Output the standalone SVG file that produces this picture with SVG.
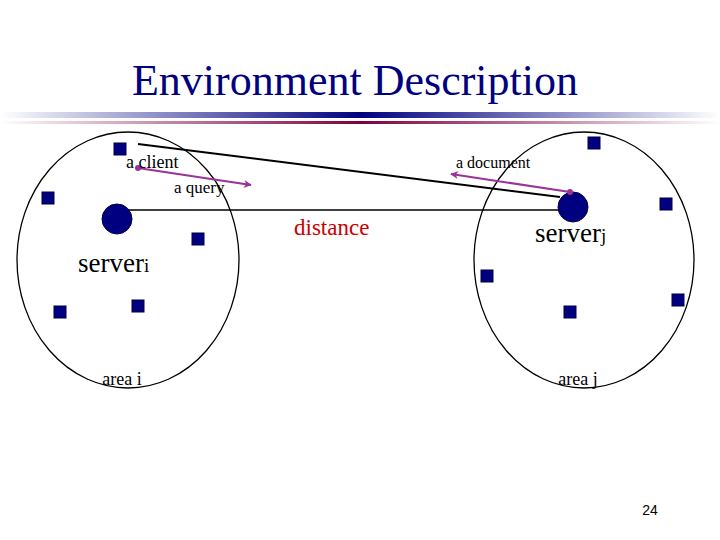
<svg xmlns="http://www.w3.org/2000/svg" width="720" height="540" viewBox="0 0 720 540">
<defs>
<linearGradient id="gb" x1="0" x2="1" y1="0" y2="0">
<stop offset="0" stop-color="#ffffff"/>
<stop offset="0.5" stop-color="#000080"/>
<stop offset="1" stop-color="#ffffff"/>
</linearGradient>
<linearGradient id="gm" x1="0" x2="1" y1="0" y2="0">
<stop offset="0" stop-color="#ffffff"/>
<stop offset="0.5" stop-color="#800040"/>
<stop offset="1" stop-color="#ffffff"/>
</linearGradient>
<marker id="ah" viewBox="0 0 10 10" refX="9" refY="5" markerWidth="12" markerHeight="8" orient="auto" markerUnits="userSpaceOnUse">
<path d="M0,0 L10,5 L0,10 L3,5 Z" fill="#993399"/>
</marker>
<style>
.sq{fill:#000080;stroke:#000040;stroke-width:1}
.srv{fill:#000080;stroke:#000040;stroke-width:1}
.area{fill:none;stroke:#000;stroke-width:1.3}
.mg{stroke:#993399;stroke-width:2;fill:none}
</style>
</defs>
<rect width="720" height="540" fill="#fff"/>
<text x="355" y="95" text-anchor="middle" font-family="Liberation Serif, Times New Roman, serif" font-size="44" fill="#000080">Environment Description</text>
<rect x="0" y="112" width="720" height="6" fill="url(#gb)"/>
<rect x="0" y="121" width="720" height="3" fill="url(#gm)"/>

<g id="area-i">
<ellipse class="area" cx="128" cy="260" rx="111" ry="128"/>
<text x="122" y="385" font-family="Liberation Serif, Times New Roman, serif" font-size="18" text-anchor="middle">area i</text>
</g>
<g id="area-j">
<ellipse class="area" cx="584" cy="260" rx="110" ry="128"/>
<text x="578" y="385" font-family="Liberation Serif, Times New Roman, serif" font-size="18" text-anchor="middle">area j</text>
</g>

<g id="connectors">
<line x1="117" y1="210" x2="573" y2="210" stroke="#000" stroke-width="1.5"/>
<line x1="138" y1="144" x2="560" y2="197" stroke="#000" stroke-width="2"/>
<line class="mg" x1="138" y1="168" x2="251" y2="185" marker-end="url(#ah)"/>
<line class="mg" x1="570" y1="192" x2="451" y2="174" marker-end="url(#ah)"/>
</g>

<g id="server-i">
<circle class="srv" cx="117" cy="219" r="15"/>
<text x="78" y="272" font-family="Liberation Serif, Times New Roman, serif" font-size="27">server<tspan font-size="19">i</tspan></text>
</g>
<g id="server-j">
<circle class="srv" cx="573" cy="207" r="15"/>
<text x="535" y="242" font-family="Liberation Serif, Times New Roman, serif" font-size="27">server<tspan font-size="19">j</tspan></text>
</g>

<g id="client">
<circle cx="138" cy="168" r="3" fill="#993399"/>
<text x="126" y="168" font-family="Liberation Serif, Times New Roman, serif" font-size="18">a client</text>
</g>
<g id="query">
<text x="174" y="193" font-family="Liberation Serif, Times New Roman, serif" font-size="17">a query</text>
</g>
<g id="document">
<circle cx="570" cy="192" r="3" fill="#993399"/>
<text x="456" y="168" font-family="Liberation Serif, Times New Roman, serif" font-size="16">a document</text>
</g>
<g id="distance">
<text x="294" y="235" font-family="Liberation Serif, Times New Roman, serif" font-size="23" fill="#cc0000">distance</text>
</g>

<g id="hosts">
<rect class="sq" x="114" y="143" width="12" height="12"/>
<rect class="sq" x="42" y="192" width="12" height="12"/>
<rect class="sq" x="192" y="233" width="12" height="12"/>
<rect class="sq" x="54" y="306" width="12" height="12"/>
<rect class="sq" x="132" y="300" width="12" height="12"/>
<rect class="sq" x="588" y="137" width="12" height="12"/>
<rect class="sq" x="660" y="198" width="12" height="12"/>
<rect class="sq" x="481" y="270" width="12" height="12"/>
<rect class="sq" x="564" y="306" width="12" height="12"/>
<rect class="sq" x="672" y="294" width="12" height="12"/>
</g>

<text x="650" y="515" text-anchor="middle" font-family="Liberation Sans, Arial, sans-serif" font-size="14" fill="#000">24</text>
</svg>
